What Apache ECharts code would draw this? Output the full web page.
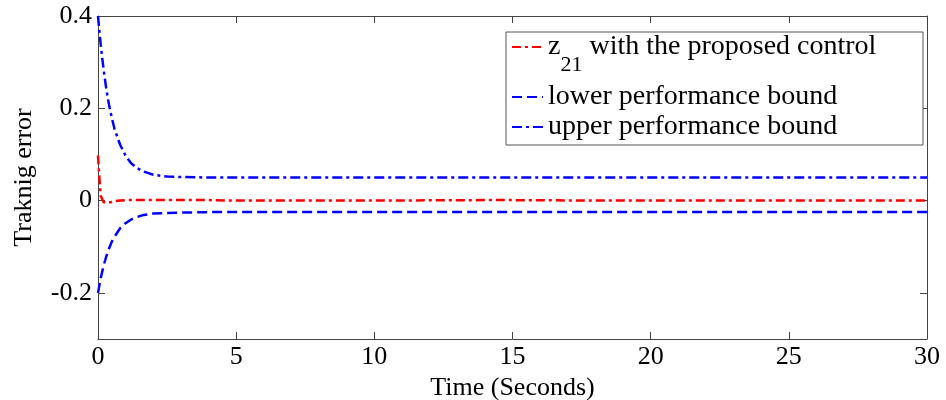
<!DOCTYPE html>
<html>
<head>
<meta charset="utf-8">
<script src="https://cdn.jsdelivr.net/npm/echarts@6/dist/echarts.min.js"></script>
<style>
  html, body { margin: 0; padding: 0; background: #fff; }
  #main { width: 946px; height: 400px; }
</style>
</head>
<body>
<div id="main"></div>
<script>
// 时间采样点 (秒)
var timeSec = [0, 0.05, 0.1, 0.2, 0.3, 0.4, 0.5, 0.6, 0.8, 1.0, 1.2, 1.4, 1.6, 1.8, 2.0, 2.5, 3, 4, 5, 8, 10, 14, 15, 18, 20, 25, 30];
// z21 跟踪误差
var z21 = [0.098, 0.05, 0.01, -0.003, -0.005, -0.004, -0.003, -0.001, 0, 0.001, 0.001, 0.001, 0.001, 0.001, 0.001, 0.001, 0.001, 0.001, 0, 0, 0, 0.001, 0.001, 0, 0, 0, 0];
// 性能下界
var lowerBound = [-0.2, -0.184, -0.168, -0.142, -0.121, -0.104, -0.089, -0.078, -0.06, -0.049, -0.041, -0.036, -0.032, -0.03, -0.028, -0.027, -0.026, -0.025, -0.025, -0.025, -0.025, -0.025, -0.025, -0.025, -0.025, -0.025, -0.025];
// 性能上界
var upperBound = [0.4, 0.367, 0.337, 0.285, 0.242, 0.207, 0.179, 0.155, 0.121, 0.097, 0.081, 0.071, 0.064, 0.06, 0.056, 0.052, 0.051, 0.05, 0.05, 0.05, 0.05, 0.05, 0.05, 0.05, 0.05, 0.05, 0.05];
var yTicks = [-0.2, 0, 0.2, 0.4];
var xTicks = [0, 5, 10, 15, 20, 25, 30];
var seriesNames = ['z21 with the proposed control', 'lower performance bound', 'upper performance bound'];

function pairs(ys) {
    return timeSec.map(function (t, i) { return [t, ys[i]]; });
}

var myChart = echarts.init(document.getElementById('main'));
var font = 'Liberation Serif';
var axisColor = '#444';

var option = {
    animation: false,
    grid: { left: 98, right: 19, top: 16, bottom: 61, outerBoundsMode: 'none', containLabel: false },
    graphic: [{
        type: 'rect',
        shape: { x: 506, y: 32, width: 417, height: 113 },
        style: { fill: '#fff', stroke: '#555', lineWidth: 1 },
        z: 10
    }],
    legend: {
        orient: 'vertical',
        left: 511,
        top: 13,
        z: 20,
        itemWidth: 31,
        itemHeight: 14,
        itemGap: 2,
        padding: 0,
        itemStyle: { opacity: 0 },
        textStyle: {
            fontFamily: font,
            fontSize: 28,
            lineHeight: 28,
            color: '#000',
            rich: {
                sub: { fontFamily: font, fontSize: 22, lineHeight: 22, color: '#000', padding: [41, 0, 5, 0] }
            }
        },
        formatter: function (name) {
            if (name === seriesNames[0]) {
                return 'z{sub|21} with the proposed control';
            }
            return name;
        },
        data: seriesNames
    },
    xAxis: [{
        type: 'value',
        min: 0, max: 30, interval: 5,
        name: 'Time (Seconds)',
        nameLocation: 'middle',
        nameGap: 33,
        nameTextStyle: { fontFamily: font, fontSize: 26, color: '#000' },
        axisLine: { onZero: false, lineStyle: { color: axisColor, width: 1 } },
        axisTick: { inside: true, length: 7, lineStyle: { color: axisColor } },
        axisLabel: { fontFamily: font, fontSize: 26, color: '#000', margin: 5,
            customValues: xTicks },
        splitLine: { show: false }
    }, {
        type: 'value',
        position: 'top',
        min: 0, max: 30, interval: 5,
        axisLine: { onZero: false, lineStyle: { color: axisColor, width: 1 } },
        axisTick: { inside: true, length: 7, lineStyle: { color: axisColor } },
        axisLabel: { show: false },
        splitLine: { show: false }
    }],
    yAxis: [{
        type: 'value',
        min: -0.3, max: 0.4,
        name: 'Traknig error',
        nameLocation: 'middle',
        nameGap: 61,
        nameTextStyle: { fontFamily: font, fontSize: 26, color: '#000' },
        axisLine: { show: true, onZero: false, lineStyle: { color: axisColor, width: 1 } },
        axisTick: { show: true, inside: true, length: 7, lineStyle: { color: axisColor },
            customValues: yTicks },
        axisLabel: { fontFamily: font, fontSize: 26, color: '#000', margin: 6,
            customValues: yTicks,
            formatter: function (v) { return String(Math.round(v * 10) / 10); } },
        splitLine: { show: false }
    }, {
        type: 'value',
        position: 'right',
        min: -0.3, max: 0.4,
        axisLine: { show: true, onZero: false, lineStyle: { color: axisColor, width: 1 } },
        axisTick: { show: true, inside: true, length: 7, lineStyle: { color: axisColor },
            customValues: yTicks },
        axisLabel: { show: false },
        splitLine: { show: false }
    }],
    series: [{
        name: seriesNames[0],
        type: 'line',
        symbol: 'none',
        z: 3,
        itemStyle: { color: '#ff0000' },
        lineStyle: { color: '#ff0000', width: 2.5, type: [9, 4, 3, 4] },
        data: pairs(z21)
    }, {
        name: seriesNames[1],
        type: 'line',
        symbol: 'none',
        itemStyle: { color: '#0000ff' },
        lineStyle: { color: '#0000ff', width: 2.5, type: [10, 5] },
        data: pairs(lowerBound)
    }, {
        name: seriesNames[2],
        type: 'line',
        symbol: 'none',
        itemStyle: { color: '#0000ff' },
        lineStyle: { color: '#0000ff', width: 2.5, type: [10, 4, 3, 4] },
        data: pairs(upperBound)
    }]
};

myChart.setOption(option);
</script>
</body>
</html>
